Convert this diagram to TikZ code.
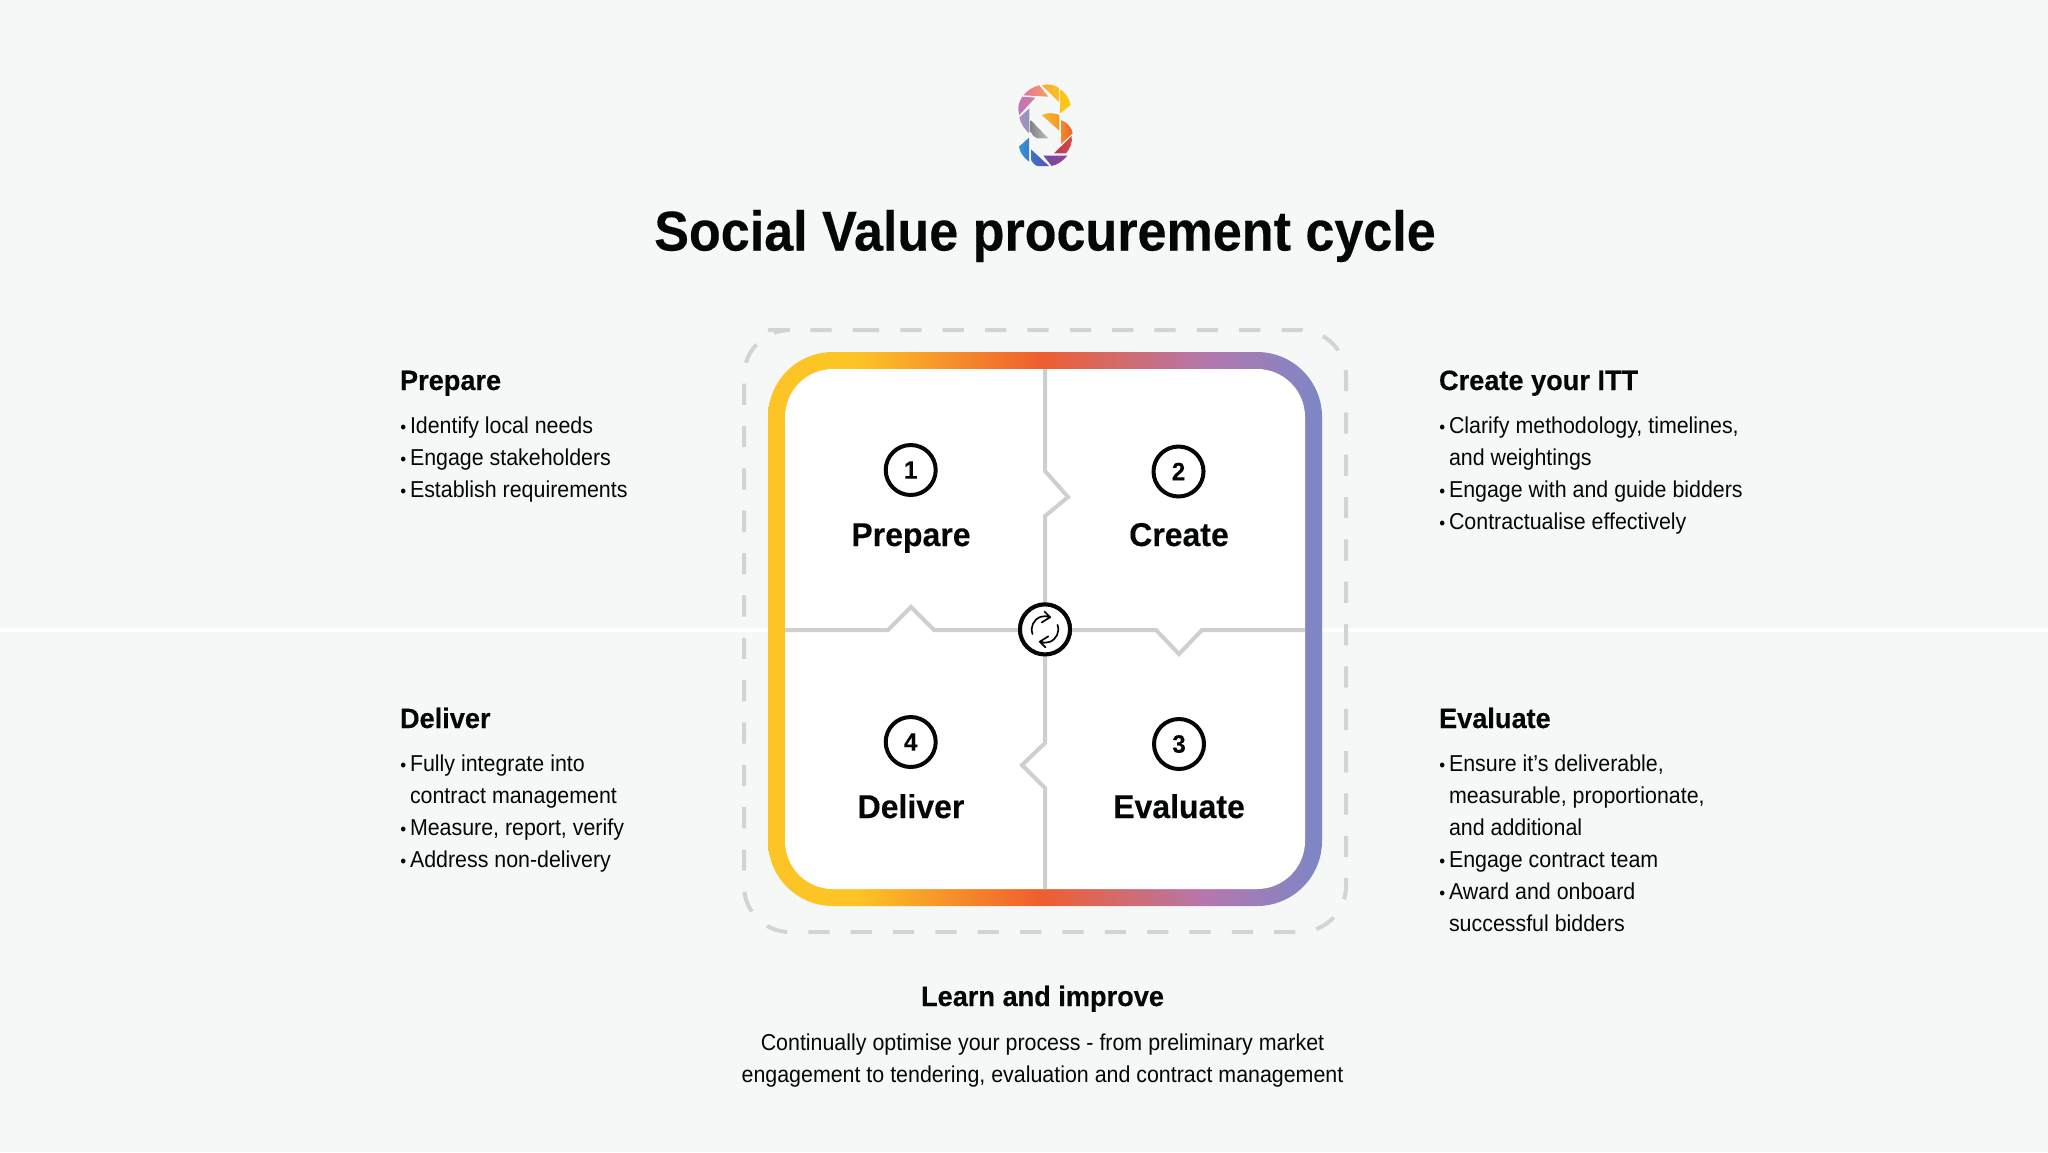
\documentclass[tikz,border=0pt]{standalone}
\usepackage{fontspec}
\setmainfont{Liberation Sans}
\newfontfamily\bodyfont[FakeStretch=0.93]{Liberation Sans}
\newfontfamily\headfont[FakeStretch=0.97,BoldFeatures={FakeBold=0.25}]{Liberation Sans}
\newfontfamily\titlefont[FakeStretch=0.93,BoldFeatures={FakeBold=0.3}]{Liberation Sans}
\definecolor{bgc}{HTML}{F6F8F8}
\definecolor{sepc}{HTML}{CFCFCF}
\definecolor{dashc}{HTML}{D2D3D3}
\definecolor{ink}{HTML}{050707}
\definecolor{bandA}{HTML}{FDC425}
\definecolor{bandB}{HTML}{EF5E2E}
\definecolor{bandC}{HTML}{B577AE}
\definecolor{bandD}{HTML}{7C87C6}
\pgfdeclarehorizontalshading{bandshade}{100bp}{
 color(0bp)=(bandA);
 color(33bp)=(bandA);
 color(49.5bp)=(bandB);
 color(64.5bp)=(bandC);
 color(75bp)=(bandD);
 color(100bp)=(bandD)}
\definecolor{la}{HTML}{E8719F}\definecolor{lb}{HTML}{F4A15F}
\definecolor{lc}{HTML}{F8A93F}\definecolor{ld}{HTML}{FDBF1F}
\definecolor{le}{HTML}{FFC21A}\definecolor{lf}{HTML}{FFCB0A}
\definecolor{lg}{HTML}{B778B8}\definecolor{lh}{HTML}{E4759F}
\definecolor{li}{HTML}{B28DC0}\definecolor{lj}{HTML}{8C96BC}
\definecolor{lk}{HTML}{858585}\definecolor{ll}{HTML}{BFBFBF}
\definecolor{lm}{HTML}{FBB52F}\definecolor{ln}{HTML}{F49A25}
\definecolor{lo}{HTML}{F28A2A}\definecolor{lp}{HTML}{EC5F2C}
\definecolor{lq}{HTML}{B7375F}\definecolor{lr}{HTML}{DA4A3F}
\definecolor{ls}{HTML}{6550A8}\definecolor{lt}{HTML}{A0408A}
\definecolor{lu}{HTML}{3A75C8}\definecolor{lv}{HTML}{5A50B0}
\definecolor{lw}{HTML}{2E96DC}\definecolor{lx}{HTML}{3C7CCC}
\newcommand{\blt}{\makebox[5pt][l]{\raisebox{0.2pt}{\hspace{0.2pt}\fontsize{9}{9}\selectfont•}}}
\newcommand{\ind}{\hspace{5pt}}
\tikzset{
 bodytxt/.style={anchor=north west,inner sep=0pt,outer sep=0pt,align=left,text=ink,font=\bodyfont\fontsize{11.5}{16}\selectfont},
 headtxt/.style={anchor=base west,inner sep=0pt,outer sep=0pt,text=ink,font=\headfont\bfseries\fontsize{14}{16}\selectfont},
 midtxt/.style={anchor=base,inner sep=0pt,outer sep=0pt,text=ink,font=\bodyfont\fontsize{11.5}{16}\selectfont},
 paneltxt/.style={anchor=base,inner sep=0pt,outer sep=0pt,text=ink,font=\headfont\bfseries\fontsize{16.5}{18}\selectfont},
 numnode/.style={circle,draw=ink,line width=2pt,minimum size=25pt,inner sep=0pt,text=ink,fill=white,font=\headfont\bfseries\fontsize{12.5}{12.5}\selectfont},
 sep/.style={draw=sepc,line width=2pt,line join=miter},
}
\newcommand{\strutline}{\rule{0pt}{11.2pt}}
\begin{document}
\begin{tikzpicture}[x=0.5pt,y=-0.5pt]
\useasboundingbox (0,0) rectangle (2048,1152);
\fill[bgc] (0,0) rectangle (2048,1152);
\fill[white] (0,628) rectangle (2048,632);
% logo
\begin{scope}[shift={(980,70)},x=0.16667pt,y=-0.16667pt]
\shade[left color=la,right color=lb] (130,76) .. controls (143,60) and (160,50) .. (178,46) -- (205,80) -- cycle;
\shade[left color=lc,right color=ld] (186,46) .. controls (205,40) and (222,44) .. (237,54) -- (237,96) -- cycle;
\shade[left color=le,right color=lf] (242,58) .. controls (258,70) and (268,86) .. (272,105) -- (241,130) -- cycle;
\shade[left color=lg,right color=lh] (127,80) -- (166,83) -- (118,135) .. controls (111,115) and (116,95) .. (127,80) -- cycle;
\shade[left color=li,right color=lj] (118,142) -- (148,115) -- (148,190) .. controls (134,178) and (122,162) .. (118,142) -- cycle;
\shade[left color=lk,right color=ll] (152,150) -- (205,205) -- (172,205) .. controls (162,200) and (155,194) .. (152,185) -- cycle;
\shade[left color=lm,right color=ln] (185,135) .. controls (203,127) and (222,128) .. (238,135) -- (238,182) -- cycle;
\shade[left color=lo,right color=lp] (243,150) .. controls (262,158) and (275,172) .. (278,190) -- (243,222) -- cycle;
\shade[left color=lq,right color=lr] (275,198) .. controls (278,218) and (270,236) .. (258,250) -- (222,250) -- cycle;
\shade[left color=ls,right color=lt] (262,257) .. controls (250,272) and (233,284) .. (215,288) -- (190,257) -- cycle;
\shade[left color=lu,right color=lv] (153,238) -- (207,288) -- (172,288) .. controls (162,284) and (156,276) .. (153,270) -- cycle;
\shade[left color=lw,right color=lx] (147,203) -- (147,275) .. controls (130,262) and (119,246) .. (117,230) -- cycle;
\end{scope}
\node[anchor=base,inner sep=0pt,text=ink,font=\titlefont\bfseries\fontsize{28}{30}\selectfont] (title) at (1045,250.5) {Social Value procurement cycle};
% dashed frame
\draw[dashc,line width=2pt,rounded corners=23pt,dash pattern=on 10.6pt off 10.575pt] (812,330) -- (1346,330) -- (1346,932) -- (744,932) -- (744,330) -- cycle;
% gradient band and panel
\path[shading=bandshade,rounded corners=32.5pt] (768,352) rectangle (1322,906);
\fill[white,rounded corners=24pt] (785,369) rectangle (1305,889);
% separators
\node[numnode] (hub) at (1045,629.4) {};
\coordinate (topv) at (1045,369);
\coordinate (botv) at (1045,889);
\coordinate (lefth) at (785,630);
\coordinate (righth) at (1305,630);
\coordinate (n1a) at (1045,471); \coordinate (n1t) at (1068,497); \coordinate (n1b) at (1045,516);
\coordinate (n2a) at (1156,630); \coordinate (n2t) at (1179,654); \coordinate (n2b) at (1202,630);
\coordinate (n3a) at (1045,743); \coordinate (n3t) at (1022,765); \coordinate (n3b) at (1045,788);
\coordinate (n4a) at (934,630); \coordinate (n4t) at (911,607); \coordinate (n4b) at (888,630);
\draw[sep] (topv) -- (n1a) -- (n1t) -- (n1b) -- (hub.north);
\draw[sep] (hub.east |- n2a) -- (n2a) -- (n2t) -- (n2b) -- (righth);
\draw[sep] (hub.south) -- (n3a) -- (n3t) -- (n3b) -- (botv);
\draw[sep] (hub.west |- n4a) -- (n4a) -- (n4t) -- (n4b) -- (lefth);
\node[numnode] at (hub) {};
\draw[ink,line width=0.85pt,line cap=round,line join=round] (hub.center) ++(160:13.3) arc (160:293:13.3) ++(-5.7,-5.7) -- ++(5.7,5.7) -- ++(-8.5,5.3);
\draw[ink,line width=0.85pt,line cap=round,line join=round] (hub.center) ++(-20:13.3) arc (-20:113:13.3) ++(5.7,5.7) -- ++(-5.7,-5.7) -- ++(8.5,-5.3);
% panel labels
\node[numnode] (c1) at (910.7,470) {1};
\node[numnode] (c2) at (1178.5,471.5) {2};
\node[numnode] (c3) at (1179,744) {3};
\node[numnode] (c4) at (910.7,742) {4};
\node[paneltxt] (p1) at (911,546) {Prepare};
\node[paneltxt] (p2) at (1179,546) {Create};
\node[paneltxt] (p3) at (1179,818) {Evaluate};
\node[paneltxt] (p4) at (911,818) {Deliver};
% side text
\node[headtxt] (h1) at (400,390) {Prepare};
\node[bodytxt] (b1) at (400,411) {\strutline\blt Identify local needs\\ \strutline\blt Engage stakeholders\\ \strutline\blt Establish requirements};
\node[headtxt] (h2) at (1439,390) {Create your ITT};
\node[bodytxt] (b2) at (1439,411) {\strutline\blt Clarify methodology, timelines,\\ \strutline\ind and weightings\\ \strutline\blt Engage with and guide bidders\\ \strutline\blt Contractualise effectively};
\node[headtxt] (h4) at (400,728) {Deliver};
\node[bodytxt] (b4) at (400,749) {\strutline\blt Fully integrate into\\ \strutline\ind contract management\\ \strutline\blt Measure, report, verify\\ \strutline\blt Address non-delivery};
\node[headtxt] (h3) at (1439,728) {Evaluate};
\node[bodytxt] (b3) at (1439,749) {\strutline\blt Ensure it’s deliverable,\\ \strutline\ind measurable, proportionate,\\ \strutline\ind and additional\\ \strutline\blt Engage contract team\\ \strutline\blt Award and onboard\\ \strutline\ind successful bidders};
% bottom text
\node[headtxt,anchor=base] (learn) at (1042.5,1006) {Learn and improve};
\node[midtxt] (l1) at (1042.5,1050.5) {Continually optimise your process - from preliminary market};
\node[midtxt] (l2) at (1042.5,1082.5) {engagement to tendering, evaluation and contract management};
\end{tikzpicture}
\end{document}
